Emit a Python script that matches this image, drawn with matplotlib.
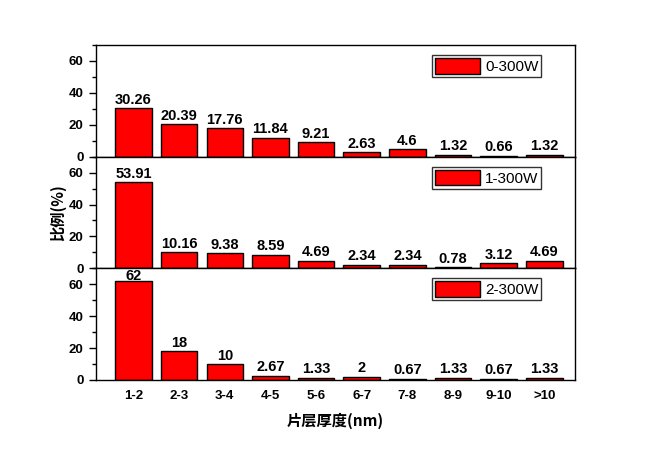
import matplotlib
matplotlib.use("Agg")
import matplotlib.pyplot as plt
from matplotlib.ticker import MultipleLocator

categories = ["1-2", "2-3", "3-4", "4-5", "5-6", "6-7", "7-8", "8-9", "9-10", ">10"]
series_names = ["0-300W", "1-300W", "2-300W"]
vals_0 = [30.26, 20.39, 17.76, 11.84, 9.21, 2.63, 4.6, 1.32, 0.66, 1.32]
vals_1 = [53.91, 10.16, 9.38, 8.59, 4.69, 2.34, 2.34, 0.78, 3.12, 4.69]
vals_2 = [62, 18, 10, 2.67, 1.33, 2, 0.67, 1.33, 0.67, 1.33]
all_vals = [vals_0, vals_1, vals_2]
yticks = [0, 20, 40, 60]

plt.rcParams['font.family'] = ['Liberation Sans', 'Noto Sans CJK SC', 'DejaVu Sans']

fig = plt.figure(figsize=(6.45, 4.5), dpi=100)
left, right = 96/645, 575/645
top, bottom = 1 - 45/450, 1 - 380/450
h = (top - bottom) / 3
x = list(range(len(categories)))
ymax = 70
axes = []
for i, (name, vals) in enumerate(zip(series_names, all_vals)):
    ax = fig.add_axes([left, top - (i + 1) * h, right - left, h])
    axes.append(ax)
    ax.bar(x, vals, width=0.8, color='#ff0000', edgecolor='black', linewidth=1.0, label=name)
    for xi, v in zip(x, vals):
        ax.text(xi, min(v + 2.8, ymax - 7.2), f"{v:g}", ha='center', va='baseline',
                fontsize=10.5, fontweight='bold')
    ax.set_ylim(0, ymax)
    ax.set_xlim(-0.82, 9.67)
    ax.set_yticks(yticks)
    ax.yaxis.set_minor_locator(MultipleLocator(10))
    ax.tick_params(axis='y', which='major', direction='out', length=5, width=1, labelsize=9.5, pad=4)
    ax.tick_params(axis='y', which='minor', direction='out', length=3, width=1)
    ax.tick_params(axis='x', which='both', length=0)
    for lab in ax.get_yticklabels():
        lab.set_fontweight('bold')
    for sp in ax.spines.values():
        sp.set_linewidth(1.0)
    leg = ax.legend(loc='upper right', bbox_to_anchor=(0.93, 0.91), fontsize=11, frameon=True,
                    fancybox=False, edgecolor='black', handlelength=3.0, handleheight=1.2,
                    borderpad=0.2, handletextpad=0.3, borderaxespad=0)
    leg.get_frame().set_linewidth(1.0)
    ax.set_xticks(x)
    if i < 2:
        ax.set_xticklabels([])
    else:
        ax.set_xticklabels(categories, fontsize=9.5, fontweight='bold')
        ax.tick_params(axis='x', pad=7)

axes[1].set_ylabel("比例(%)", fontsize=11, fontweight='bold', labelpad=2,
                   family=['Noto Sans CJK SC', 'DejaVu Sans'])
axes[2].set_xlabel("片层厚度(nm)", fontsize=11, fontweight='bold', labelpad=8,
                   family=['Noto Sans CJK SC', 'DejaVu Sans'])

fig.savefig("out.png", dpi=100)
